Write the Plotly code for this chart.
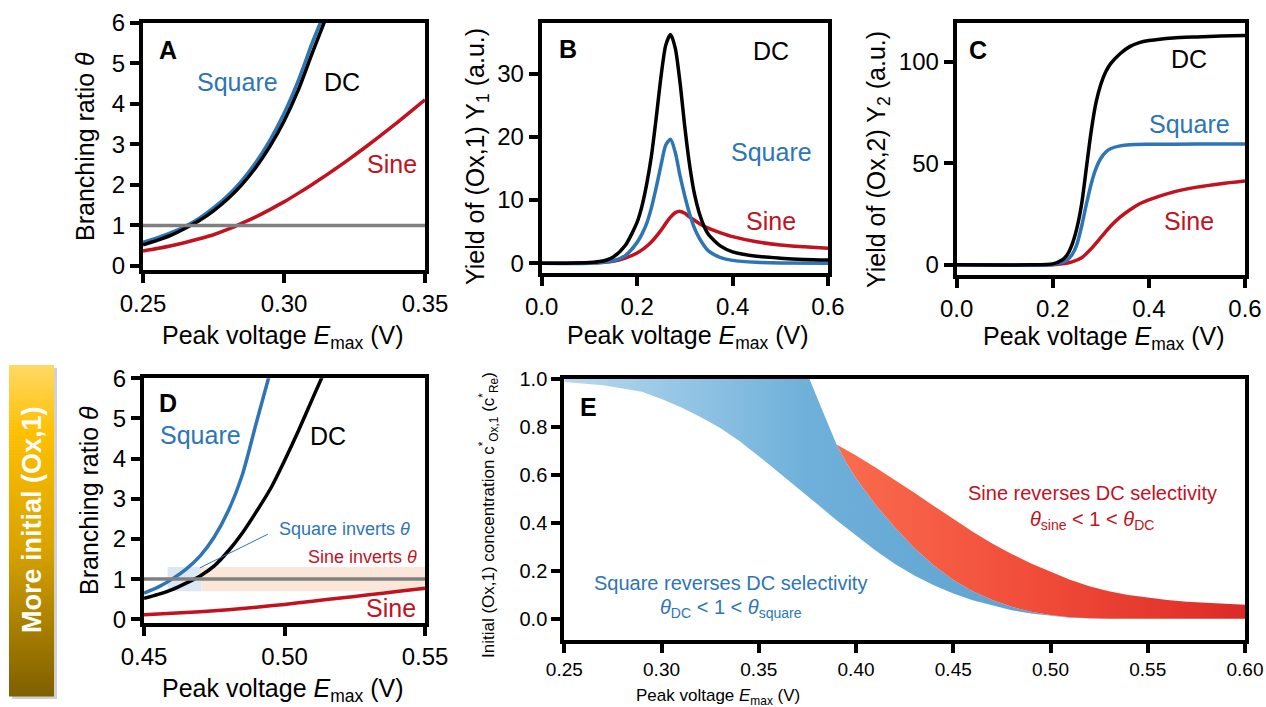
import plotly.graph_objects as go

W, H = 1266, 707
FONT = "Arial, Liberation Sans, sans-serif"
NARROW = "Liberation Sans Narrow, Arial Narrow, Arial, sans-serif"
BLUE = "#2E75B6"
RED = "#C1121F"
BLACK = "#000000"
GRAY = "#808080"

# ---------------- Panel A: branching ratio (0.25-0.35 V) ----------------
A_dc_x = [0.25, 0.255, 0.26, 0.265, 0.27, 0.275, 0.28, 0.285, 0.29, 0.295, 0.30, 0.305, 0.31, 0.3145]
A_dc_y = [0.52, 0.63, 0.76, 0.93, 1.12, 1.36, 1.65, 2.00, 2.43, 2.95, 3.57, 4.33, 5.25, 6.05]
A_sq_x = [0.25, 0.255, 0.26, 0.265, 0.27, 0.275, 0.28, 0.285, 0.29, 0.295, 0.30, 0.305, 0.31, 0.3135]
A_sq_y = [0.58, 0.69, 0.82, 0.98, 1.18, 1.43, 1.73, 2.10, 2.55, 3.10, 3.76, 4.56, 5.50, 6.10]
A_sin_x = [0.25, 0.255, 0.26, 0.265, 0.27, 0.275, 0.28, 0.285, 0.29, 0.295, 0.30, 0.305, 0.31,
           0.315, 0.32, 0.325, 0.33, 0.335, 0.34, 0.345, 0.35]
A_sin_y = [0.37, 0.43, 0.50, 0.58, 0.67, 0.77, 0.90, 1.05, 1.21, 1.39, 1.58, 1.79, 2.01,
           2.24, 2.48, 2.73, 2.99, 3.26, 3.53, 3.81, 4.10]

# ---------------- Panel B: yield Y1 ----------------
B_dc_x = [0.0, 0.05, 0.10, 0.125, 0.15, 0.175, 0.20, 0.21, 0.22, 0.23, 0.24, 0.25, 0.26, 0.27,
          0.28, 0.29, 0.30, 0.31, 0.32, 0.33, 0.34, 0.35, 0.375, 0.40, 0.45, 0.50, 0.55, 0.60]
B_dc_y = [0.0, 0.0, 0.1, 0.3, 1.0, 2.8, 6.5, 9.0, 12.5, 17.0, 23.0, 29.5, 34.5, 36.2,
          34.0, 28.5, 21.5, 15.5, 11.0, 8.0, 5.9, 4.5, 2.7, 1.8, 1.1, 0.8, 0.6, 0.5]
B_sq_x = [0.0, 0.10, 0.15, 0.175, 0.20, 0.21, 0.22, 0.23, 0.24, 0.25, 0.26, 0.27, 0.28, 0.29,
          0.30, 0.31, 0.32, 0.33, 0.34, 0.35, 0.375, 0.40, 0.45, 0.50, 0.60]
B_sq_y = [0.0, 0.0, 0.4, 1.2, 3.3, 4.6, 6.3, 8.8, 12.0, 15.5, 18.7, 19.6, 17.5, 13.8,
          10.6, 7.8, 5.6, 4.0, 2.8, 1.9, 0.9, 0.45, 0.15, 0.05, 0.0]
B_sin_x = [0.0, 0.10, 0.15, 0.175, 0.20, 0.225, 0.25, 0.26, 0.27, 0.28, 0.29, 0.30, 0.31, 0.32,
           0.33, 0.35, 0.375, 0.40, 0.45, 0.50, 0.55, 0.60]
B_sin_y = [0.0, 0.02, 0.3, 0.8, 1.6, 3.0, 5.2, 6.3, 7.3, 8.0, 8.2, 7.9, 7.3, 6.8,
           6.3, 5.5, 4.8, 4.2, 3.4, 2.9, 2.6, 2.35]

# ---------------- Panel C: yield Y2 ----------------
C_dc_x = [0.0, 0.15, 0.20, 0.22, 0.23, 0.24, 0.25, 0.26, 0.27, 0.28, 0.29, 0.30, 0.31, 0.32,
          0.34, 0.36, 0.38, 0.40, 0.45, 0.50, 0.55, 0.60]
C_dc_y = [0.0, 0.0, 0.5, 2.5, 5.0, 10.0, 18.0, 30.0, 48.0, 66.0, 80.0, 89.0, 95.0, 99.0,
          104.0, 107.5, 109.5, 110.5, 111.8, 112.3, 112.7, 113.0]
C_sq_x = [0.0, 0.20, 0.22, 0.23, 0.24, 0.25, 0.26, 0.27, 0.28, 0.29, 0.30, 0.31, 0.32, 0.34,
          0.36, 0.40, 0.50, 0.60]
C_sq_y = [0.0, 0.2, 1.2, 2.5, 5.0, 10.0, 19.0, 30.0, 40.0, 47.5, 52.5, 55.5, 57.2, 58.6,
          59.2, 59.4, 59.5, 59.5]
C_sin_x = [0.0, 0.20, 0.22, 0.24, 0.26, 0.28, 0.30, 0.32, 0.34, 0.36, 0.38, 0.40, 0.45, 0.50,
           0.55, 0.60]
C_sin_y = [0.0, 0.1, 0.5, 1.5, 3.5, 8.0, 13.5, 19.0, 23.5, 27.0, 30.0, 32.0, 35.8, 38.3,
           40.0, 41.3]

# ---------------- Panel D: branching ratio (0.45-0.55 V) ----------------
D_dc_x = [0.45, 0.455, 0.46, 0.465, 0.47, 0.475, 0.48, 0.485, 0.49, 0.495, 0.50, 0.505, 0.51, 0.5135]
D_dc_y = [0.52, 0.62, 0.74, 0.90, 1.08, 1.33, 1.70, 2.15, 2.68, 3.25, 3.95, 4.70, 5.50, 6.05]
D_sq_x = [0.45, 0.455, 0.46, 0.465, 0.47, 0.475, 0.48, 0.485, 0.49, 0.4945]
D_sq_y = [0.65, 0.80, 1.00, 1.25, 1.58, 2.05, 2.70, 3.60, 4.90, 6.05]
D_sin_x = [0.45, 0.46, 0.47, 0.48, 0.49, 0.50, 0.51, 0.52, 0.53, 0.54, 0.55]
D_sin_y = [0.11, 0.15, 0.19, 0.24, 0.30, 0.37, 0.45, 0.53, 0.61, 0.69, 0.77]
D_sq_inv_range = [0.4584, 0.4705]
D_sin_inv_range = [0.4705, 0.55]
D_inv_band = [0.7, 1.3]
THETA_ONE = 1.0

# ---------------- Panel E: regions ----------------
# lower edge of the "square reverses" region
E_low_x = [0.25, 0.27, 0.29, 0.30, 0.31, 0.32, 0.33, 0.34, 0.35, 0.36, 0.37, 0.38, 0.39, 0.40,
           0.41, 0.42, 0.43, 0.44, 0.45, 0.46, 0.47, 0.48, 0.49, 0.50, 0.51, 0.52, 0.53]
E_low_y = [0.985, 0.972, 0.945, 0.915, 0.88, 0.84, 0.795, 0.74, 0.677, 0.612, 0.545, 0.478, 0.41, 0.345,
           0.284, 0.228, 0.18, 0.14, 0.105, 0.077, 0.055, 0.036, 0.022, 0.012, 0.005, 0.002, 0.0]
# boundary between square region and sine region (upper edge of blue)
E_mid_x = [0.25, 0.376, 0.38, 0.385, 0.39, 0.395, 0.40, 0.41, 0.42, 0.43, 0.44, 0.45, 0.46, 0.47,
           0.48, 0.49, 0.50, 0.51, 0.52, 0.53, 0.56, 0.60]
E_mid_y = [1.0, 1.0, 0.92, 0.82, 0.725, 0.65, 0.585, 0.475, 0.38, 0.295, 0.222, 0.162, 0.115, 0.078,
           0.050, 0.030, 0.016, 0.007, 0.002, 0.0, 0.0, 0.0]
# upper edge of the "sine reverses" region
E_up_x = [0.39, 0.40, 0.41, 0.42, 0.43, 0.44, 0.45, 0.46, 0.47, 0.48, 0.49, 0.50, 0.51, 0.52,
          0.53, 0.54, 0.55, 0.56, 0.57, 0.58, 0.59, 0.60]
E_up_y = [0.725, 0.68, 0.63, 0.578, 0.525, 0.47, 0.415, 0.362, 0.313, 0.27, 0.23, 0.195, 0.163, 0.136,
          0.115, 0.099, 0.087, 0.078, 0.071, 0.066, 0.062, 0.059]
E_SINE_START = 0.39


def P(px, py):
    """pixel position -> paper coords"""
    return px / W, 1 - py / H


def axis(dom, rng, tickvals, fmt, size=24, family=FONT):
    return dict(domain=dom, range=rng, tickvals=tickvals, tickformat=fmt, automargin=False,
                showline=True, linewidth=4, linecolor="black", mirror=True,
                ticks="outside", ticklen=9, tickwidth=3.5, tickcolor="black",
                tickfont=dict(size=size, color="black", family=family),
                showgrid=False, zeroline=False, fixedrange=True)


def xd(x0, x1):
    return [x0 / W, x1 / W]


def yd(top, bottom):
    return [1 - bottom / H, 1 - top / H]


fig = go.Figure()


def line(x, y, color, xa, ya, width=3.5):
    fig.add_trace(go.Scatter(x=x, y=y, mode="lines",
                             line=dict(color=color, width=width, shape="spline", smoothing=0.7),
                             xaxis=xa, yaxis=ya, showlegend=False, hoverinfo="skip", cliponaxis=True))


# Panel A
line(A_sin_x, A_sin_y, RED, "x", "y")
line(A_sq_x, A_sq_y, BLUE, "x", "y")
line(A_dc_x, A_dc_y, BLACK, "x", "y")
# Panel B
line(B_sin_x, B_sin_y, RED, "x2", "y2")
line(B_sq_x, B_sq_y, BLUE, "x2", "y2")
line(B_dc_x, B_dc_y, BLACK, "x2", "y2")
# Panel C
line(C_sin_x, C_sin_y, RED, "x3", "y3")
line(C_sq_x, C_sq_y, BLUE, "x3", "y3")
line(C_dc_x, C_dc_y, BLACK, "x3", "y3")
# Panel D
line(D_sin_x, D_sin_y, RED, "x4", "y4")
line(D_sq_x, D_sq_y, BLUE, "x4", "y4")
line(D_dc_x, D_dc_y, BLACK, "x4", "y4")

# Panel E regions
blue_x = E_low_x + [x for x in reversed(E_mid_x) if x <= E_low_x[-1]]
blue_y = E_low_y + [y for x, y in zip(reversed(E_mid_x), reversed(E_mid_y)) if x <= E_low_x[-1]]
fig.add_trace(go.Scatter(x=blue_x, y=blue_y, mode="lines", fill="toself",
                         line=dict(width=0, color="rgba(0,0,0,0)"),
                         fillgradient=dict(type="horizontal",
                                           colorscale=[[0, "#b8d9ef"], [0.45, "#6eb0da"], [1, "#5a9dcc"]]),
                         xaxis="x5", yaxis="y5", showlegend=False, hoverinfo="skip"))
red_lo = [(x, y) for x, y in zip(E_mid_x, E_mid_y) if x >= E_SINE_START]
red_x = [p[0] for p in red_lo] + list(reversed(E_up_x))
red_y = [p[1] for p in red_lo] + list(reversed(E_up_y))
fig.add_trace(go.Scatter(x=red_x, y=red_y, mode="lines", fill="toself",
                         line=dict(width=0, color="rgba(0,0,0,0)"),
                         fillgradient=dict(type="horizontal",
                                           colorscale=[[0, "#fa6c4d"], [0.5, "#f04b39"], [1, "#dc2a26"]]),
                         xaxis="x5", yaxis="y5", showlegend=False, hoverinfo="skip"))

layout = dict(
    width=W, height=H, margin=dict(l=0, r=0, t=0, b=0, autoexpand=False),
    paper_bgcolor="white", plot_bgcolor="white",
    font=dict(family=FONT, color="black"),
    xaxis=axis(xd(143, 425), [0.25, 0.35], [0.25, 0.30, 0.35], ".2f"),
    yaxis=axis(yd(22.7, 270), [-0.1, 6], [0, 1, 2, 3, 4, 5, 6], "d"),
    xaxis2=axis(xd(541.7, 828), [0, 0.6], [0, 0.2, 0.4, 0.6], ".1f"),
    yaxis2=axis(yd(23, 272.7), [-1.5, 38], [0, 10, 20, 30], "d"),
    xaxis3=axis(xd(956.7, 1245), [0, 0.6], [0, 0.2, 0.4, 0.6], ".1f"),
    yaxis3=axis(yd(23.3, 275), [-5, 119], [0, 50, 100], "d"),
    xaxis4=axis(xd(144, 425), [0.45, 0.55], [0.45, 0.50, 0.55], ".2f"),
    yaxis4=axis(yd(378.3, 623.3), [-0.1, 6], [0, 1, 2, 3, 4, 5, 6], "d"),
    xaxis5=axis(xd(564.3, 1245), [0.25, 0.60], [0.25, 0.30, 0.35, 0.40, 0.45, 0.50, 0.55, 0.60], ".2f",
                size=19, family=NARROW),
    yaxis5=axis(yd(378.5, 640), [-0.088, 1.0], [0, 0.2, 0.4, 0.6, 0.8, 1.0], ".1f", size=20),
)
layout["xaxis"]["anchor"] = "y"; layout["yaxis"]["anchor"] = "x"
layout["xaxis2"]["anchor"] = "y2"; layout["yaxis2"]["anchor"] = "x2"
layout["xaxis3"]["anchor"] = "y3"; layout["yaxis3"]["anchor"] = "x3"
layout["xaxis4"]["anchor"] = "y4"; layout["yaxis4"]["anchor"] = "x4"
layout["xaxis5"]["anchor"] = "y5"; layout["yaxis5"]["anchor"] = "x5"
fig.update_layout(**layout)

shapes = []
# inversion bands in D
shapes.append(dict(type="rect", xref="x4", yref="y4", x0=D_sq_inv_range[0], x1=D_sq_inv_range[1],
                   y0=D_inv_band[0], y1=D_inv_band[1], fillcolor="#dde6f3", line=dict(width=0), layer="below"))
shapes.append(dict(type="rect", xref="x4", yref="y4", x0=D_sin_inv_range[0], x1=D_sin_inv_range[1],
                   y0=D_inv_band[0], y1=D_inv_band[1], fillcolor="#fbe6da", line=dict(width=0), layer="below"))
# threshold lines theta = 1
for xr, yr in [("x domain", "y"), ("x4 domain", "y4")]:
    shapes.append(dict(type="line", xref=xr, yref=yr, x0=0, x1=1, y0=THETA_ONE, y1=THETA_ONE,
                       line=dict(color=GRAY, width=3.5), layer="above"))
shapes.append(dict(type="line", xref="x4", yref="y4", x0=0.4699, y0=1.28, x1=0.4941, y1=2.12,
                   line=dict(color=BLUE, width=1)))

# side bar with vertical gold gradient
bar_top, bar_bot, bar_l, bar_r = 365, 696, 9, 54
shapes.append(dict(type="rect", xref="paper", yref="paper",
                   x0=(bar_l + 3) / W, x1=(bar_r + 3) / W, y0=1 - (bar_bot + 3) / H, y1=1 - (bar_top + 3) / H,
                   fillcolor="rgba(0,0,0,0.18)", line=dict(width=0), layer="below"))


def lerp(c1, c2, t):
    a = [int(c1[i:i + 2], 16) for i in (1, 3, 5)]
    b = [int(c2[i:i + 2], 16) for i in (1, 3, 5)]
    return "rgb(%d,%d,%d)" % tuple(round(a[i] + (b[i] - a[i]) * t) for i in range(3))


stops = [(0.0, "#ffd966"), (0.2, "#ffc000"), (0.55, "#d9a300"), (1.0, "#7f6000")]
n = 110
for i in range(n):
    t = (i + 0.5) / n
    for j in range(len(stops) - 1):
        if stops[j][0] <= t <= stops[j + 1][0]:
            tt = (t - stops[j][0]) / (stops[j + 1][0] - stops[j][0])
            col = lerp(stops[j][1], stops[j + 1][1], tt)
            break
    y0 = bar_top + (bar_bot - bar_top) * i / n
    y1 = bar_top + (bar_bot - bar_top) * (i + 1) / n + 0.6
    shapes.append(dict(type="rect", xref="paper", yref="paper", x0=bar_l / W, x1=bar_r / W,
                       y0=1 - y1 / H, y1=1 - y0 / H, fillcolor=col, line=dict(width=0), layer="below"))
fig.update_layout(shapes=shapes)

ann = []


def text(px, py, s, size=25, color="black", angle=0, bold=False, family=FONT):
    x, y = P(px, py)
    ann.append(dict(x=x, y=y, xref="paper", yref="paper", text=("<b>%s</b>" % s) if bold else s,
                    showarrow=False, xanchor="center", yanchor="middle", textangle=angle,
                    font=dict(size=size, color=color, family=family)))


XT = "Peak voltage <i>E</i><sub>max</sub> (V)"
# panel letters
text(168, 50, "A", size=25, bold=True)
text(568, 49, "B", size=25, bold=True)
text(978, 50, "C", size=25, bold=True)
text(168, 403, "D", size=25, bold=True)
text(588, 407, "E", size=25, bold=True)
# axis titles
text(283, 337, XT)
text(688, 337, XT)
text(1104, 338, XT)
text(283, 690, XT)
text(718, 697, XT, size=17, family=NARROW)
text(85, 147, "Branching ratio <i>θ</i>", angle=-90)
text(477, 157, "Yield of (Ox,1) Y<sub>1</sub> (a.u.)", angle=-90)
text(878, 160, "Yield of (Ox,2) Y<sub>2</sub> (a.u.)", angle=-90)
text(89, 501, "Branching ratio <i>θ</i>", angle=-90)
text(488, 515, "Initial (Ox,1) concentration c<sup>*</sup><sub>Ox,1</sub> (c<sup>*</sup><sub>Re</sub>)",
     size=17, angle=-90)
# curve labels
text(237, 82, "Square", color=BLUE)
text(342, 82, "DC")
text(392, 164, "Sine", color=RED)
text(771, 51, "DC")
text(771, 152, "Square", color=BLUE)
text(771, 221, "Sine", color=RED)
text(1189, 59, "DC")
text(1189, 124, "Square", color=BLUE)
text(1189, 221, "Sine", color=RED)
text(200, 435, "Square", color=BLUE)
text(328, 436, "DC")
text(344, 529, "Square inverts <i>θ</i>", size=18, color=BLUE)
text(362, 557, "Sine inverts <i>θ</i>", size=18, color=RED)
text(391, 608, "Sine", color=RED)
# E region labels
text(1092, 493, "Sine reverses DC selectivity", size=20, color=RED)
text(1092, 520, "<i>θ</i><sub>sine</sub> &lt; 1 &lt; <i>θ</i><sub>DC</sub>", size=20, color=RED)
text(731, 583, "Square reverses DC selectivity", size=20, color=BLUE)
text(731, 608, "<i>θ</i><sub>DC</sub> &lt; 1 &lt; <i>θ</i><sub>square</sub>", size=20, color=BLUE)
# side bar label
text(32, 520, "More initial (Ox,1)", size=27, color="white", angle=-90, bold=True)

fig.update_layout(annotations=ann)
fig.write_html("out.html", config={"displayModeBar": False},
               post_script="document.body.style.margin='0';document.body.style.overflow='hidden';")
